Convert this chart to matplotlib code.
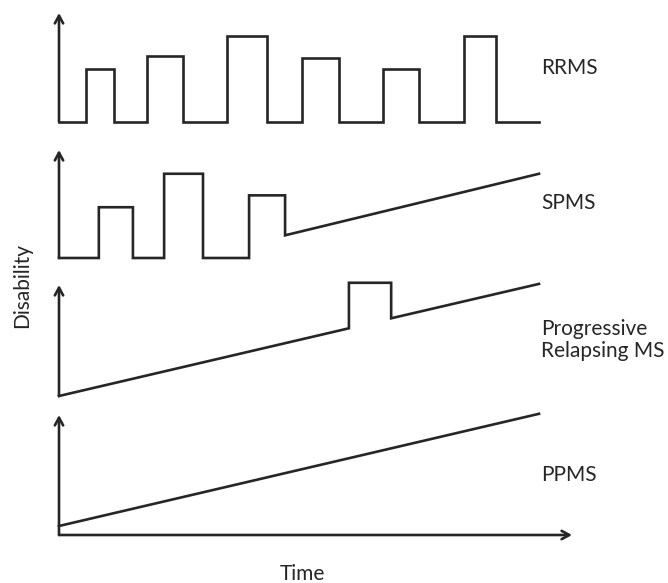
import matplotlib
matplotlib.use("Agg")
import matplotlib.pyplot as plt

W, H = 668, 583
plt.rcParams['font.family'] = ['Lato', 'DejaVu Sans']

# ---- data (time 0-100, disability 0-10 per panel) ----
rrms_time = [0, 5.6, 5.6, 11.5, 11.5, 18.3, 18.3, 25.8, 25.8, 35.0, 35.0, 43.3, 43.3,
             50.6, 50.6, 58.3, 58.3, 67.5, 67.5, 75.0, 75.0, 84.4, 84.4, 91.0, 91.0, 100]
rrms_dis = [0, 0, 4.9, 4.9, 0, 0, 6.1, 6.1, 0, 0, 7.9, 7.9, 0,
            0, 5.9, 5.9, 0, 0, 4.9, 4.9, 0, 0, 7.9, 7.9, 0, 0]

spms_time = [0, 8.3, 8.3, 15.4, 15.4, 21.9, 21.9, 30.0, 30.0, 39.6, 39.6, 47.1, 47.1, 100]
spms_dis = [0, 0, 4.7, 4.7, 0, 0, 7.8, 7.8, 0, 0, 5.8, 5.8, 2.1, 7.8]

prms_time = [0, 60.4, 60.4, 69.2, 69.2, 100]
prms_dis = [0, 6.1, 10.2, 10.2, 7.0, 10.1]

ppms_time = [0, 100]
ppms_dis = [0.75, 10.1]

labels = ["RRMS", "SPMS", "Progressive\nRelapsing MS", "PPMS"]
x_label = "Time"
y_label = "Disability"

# ---- layout (pixel frames: bottom, top) ----
frames = [(122, 13), (258, 150), (396, 285), (535, 415)]
label_y = [68, 203, 340, 475]
x0, x1 = 59, 539
col = "#262626"
lw = 1.9

fig = plt.figure(figsize=(W / 100, H / 100), dpi=100)
series = [(rrms_time, rrms_dis), (spms_time, spms_dis),
          (prms_time, prms_dis), (ppms_time, ppms_dis)]

arrow_kw = dict(arrowstyle="->,head_length=0.55,head_width=0.3", color=col,
                lw=lw, shrinkA=0, shrinkB=0)

for i, ((t, d), (yb, yt)) in enumerate(zip(series, frames)):
    ax = fig.add_axes([x0 / W, 1 - yb / H, (x1 - x0) / W, (yb - yt) / H])
    ax.set_xlim(0, 100)
    ax.set_ylim(0, 10)
    ax.axis("off")
    ax.plot(t, d, color=col, lw=lw, solid_joinstyle="miter", clip_on=False)
    ax.annotate("", xy=(0, 1), xytext=(0, 0), xycoords="axes fraction",
                arrowprops=arrow_kw, annotation_clip=False)
    if i == 3:
        ax.annotate("", xy=((572 - x0) / (x1 - x0), 0), xytext=(0, 0),
                    xycoords="axes fraction", arrowprops=arrow_kw,
                    annotation_clip=False)
    fig.text(541 / W, 1 - label_y[i] / H, labels[i], ha="left", va="center",
             fontsize=15, color="#262626", linespacing=1.1)

fig.text(302 / W, 1 - 574 / H, x_label, ha="center", va="center",
         fontsize=15, color="#262626")
fig.text(22 / W, 1 - 285 / H, y_label, ha="center", va="center",
         rotation=90, fontsize=15, color="#262626")

fig.savefig("out.png", dpi=100)
